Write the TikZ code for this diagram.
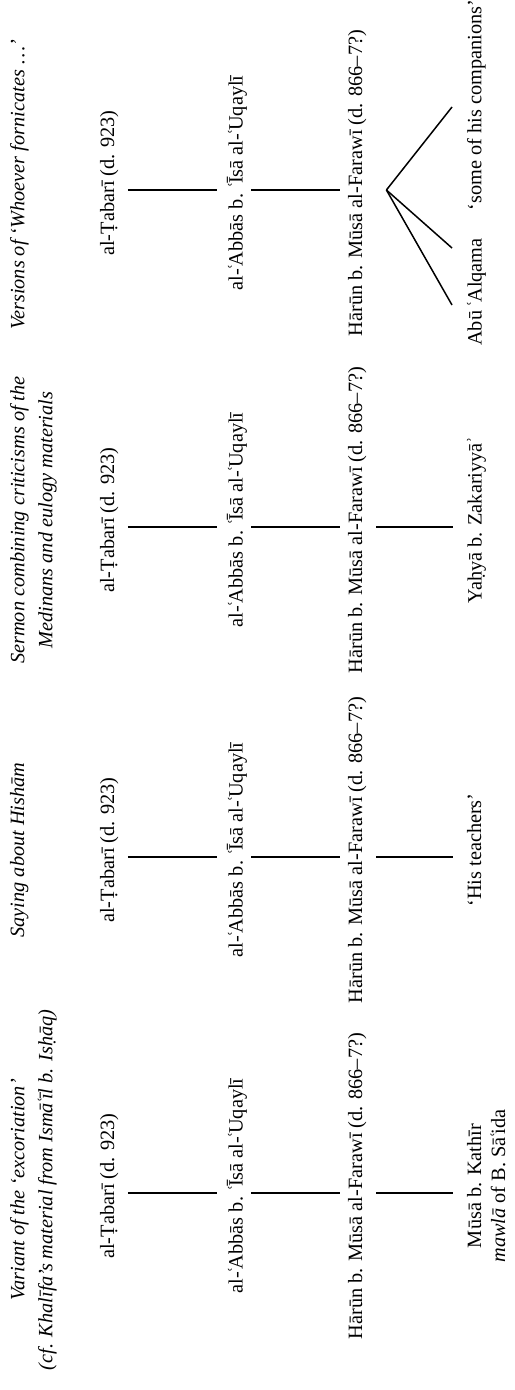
\documentclass[tikz,border=0pt]{standalone}
\usepackage{fontspec}
\setmainfont{Liberation Serif}
\newcommand{\ain}{\kern-0.07em ʿ\kern-0.11em}
\begin{document}
\begin{tikzpicture}[x=0.5pt,y=-0.5pt,
  nm/.style={rotate=90, inner sep=0pt, outer sep=0pt, anchor=north, font=\fontsize{10.15}{12}\selectfont},
  src/.style={nm, align=center, font=\fontsize{10.15}{12}\selectfont},
  ttl/.style={nm, align=center, font=\fontsize{10.15}{14}\selectfont\itshape},
  link/.style={line width=0.75pt},
  l1/.style={link, shorten <=4.75pt, shorten >=5pt},
  l2/.style={link, shorten <=2pt, shorten >=4pt},
  l3/.style={link, shorten <=5pt, shorten >=7pt}]
\useasboundingbox (0,0) rectangle (514,1390);

% column 1
\node[ttl] (ti1) at (10,1190) {Variant of the ‘excoriation’\\(cf. Khalīfa’s material from Ismā\ain īl b. Isḥāq)};
\node[nm] (t1) at (100,1186) {al-Ṭabarī (d. 923)};
\node[nm] (a1) at (227,1186) {al-\ain Abbās b. \ain Īsā al-\ain Uqaylī};
\node[nm] (h1) at (348,1186) {Hārūn b. Mūsā al-Farawī (d. 866–7?)};
\node[src] (s1) at (467,1186) {Mūsā b. Kathīr\\\textit{mawlā} of B. Sā\ain ida};

% column 2
\node[ttl] (ti2) at (10,850) {Saying about Hishām};
\node[nm] (t2) at (100,850) {al-Ṭabarī (d. 923)};
\node[nm] (a2) at (227,850) {al-\ain Abbās b. \ain Īsā al-\ain Uqaylī};
\node[nm] (h2) at (348,850) {Hārūn b. Mūsā al-Farawī (d. 866–7?)};
\node[src] (s2) at (467,850) {‘His teachers’};

% column 3
\node[ttl] (ti3) at (10,520) {Sermon combining criticisms of the\\Medinans and eulogy materials};
\node[nm] (t3) at (100,520) {al-Ṭabarī (d. 923)};
\node[nm] (a3) at (227,520) {al-\ain Abbās b. \ain Īsā al-\ain Uqaylī};
\node[nm] (h3) at (348,520) {Hārūn b. Mūsā al-Farawī (d. 866–7?)};
\node[src] (s3) at (467,520) {Yaḥyā b. Zakariyyāʾ};

% column 4
\node[ttl] (ti4) at (10,185) {Versions of ‘Whoever fornicates …’};
\node[nm] (t4) at (100,183) {al-Ṭabarī (d. 923)};
\node[nm] (a4) at (227,183) {al-\ain Abbās b. \ain Īsā al-\ain Uqaylī};
\node[nm] (h4) at (348,183) {Hārūn b. Mūsā al-Farawī (d. 866–7?)};
\node[src] (s4a) at (467,105) {‘some of his companions’};
\node[src] (s4b) at (467,292) {Abū \ain Alqama};

% connectors
\foreach \i in {1,2,3}{
  \draw[l1] ([yshift=-3.5pt]t\i.south) -- ([yshift=-3.5pt]a\i.north);
  \draw[l2] ([yshift=-3.5pt]a\i.south) -- ([yshift=-3.5pt]h\i.north);
  \draw[l3] ([yshift=-3.5pt]h\i.south) -- ([yshift=-3.5pt]s\i.north);
}
\draw[l1] ([yshift=-3.5pt]t4.south) -- ([yshift=-3.5pt]a4.north);
\draw[l2] ([yshift=-3.5pt]a4.south) -- ([yshift=-3.5pt]h4.north);
\coordinate (fk) at ([xshift=10pt,yshift=-3.5pt]h4.south);
\draw[link] (fk) -- ([xshift=-7.5pt,yshift=-1pt]s4a.north);
\draw[link] (fk) -- ([xshift=-7.5pt,yshift=22pt]s4b.north);
\draw[link] (fk) -- ([xshift=-7.5pt,yshift=-6.5pt]s4b.north);
\end{tikzpicture}
\end{document}
